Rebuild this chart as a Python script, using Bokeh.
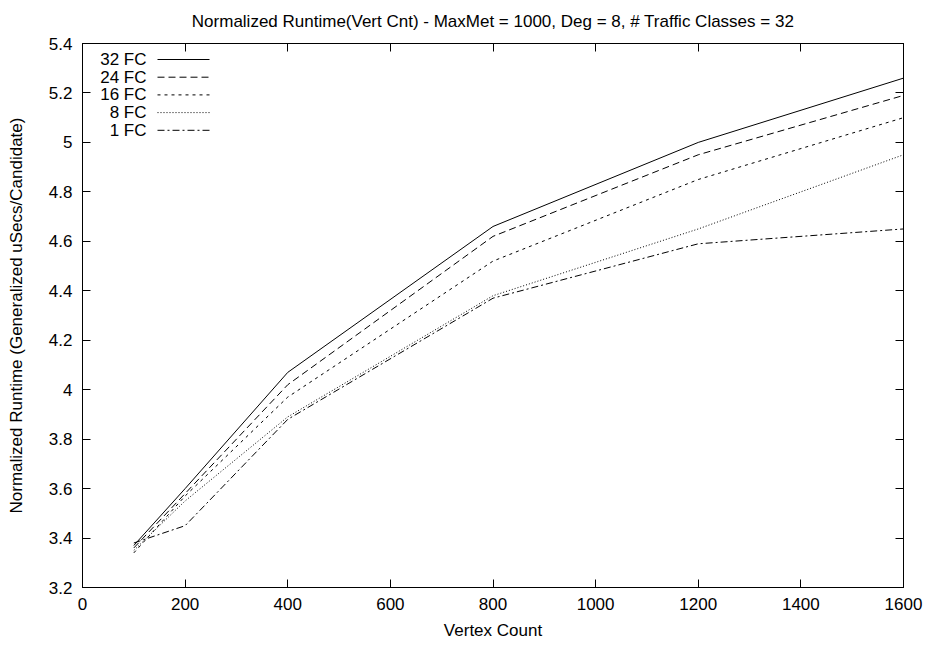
from bokeh.plotting import figure
from bokeh.models import (Range1d, FixedTicker, LinearAxis, Label, Arrow,
                          CustomJSTickFormatter)
from bokeh.embed import file_html
from bokeh.resources import INLINE

# ---- data ----
vertex_count = [100, 200, 400, 800, 1200, 1600]
fc32 = [3.37, 3.60, 4.07, 4.66, 5.00, 5.26]
fc24 = [3.36, 3.58, 4.02, 4.62, 4.95, 5.19]
fc16 = [3.34, 3.57, 3.97, 4.52, 4.85, 5.10]
fc8 = [3.35, 3.55, 3.89, 4.38, 4.65, 4.95]
fc1 = [3.38, 3.45, 3.88, 4.37, 4.59, 4.65]
series_names = ["32 FC", "24 FC", "16 FC", "8 FC", "1 FC"]
series_values = [fc32, fc24, fc16, fc8, fc1]
x_ticks = [0, 200, 400, 600, 800, 1000, 1200, 1400, 1600]
y_ticks = [3.2, 3.4, 3.6, 3.8, 4.0, 4.2, 4.4, 4.6, 4.8, 5.0, 5.2, 5.4]

title_text = "Normalized Runtime(Vert Cnt) - MaxMet = 1000, Deg = 8, # Traffic Classes = 32"
x_label = "Vertex Count"
y_label = "Normalized Runtime (Generalized uSecs/Candidate)"

# ---- styles ----
FONT = "Liberation Sans"
FS = "17px"
dashes = ["solid", "7 4", "3 4", "1 2", "7 3 2 3"]

p = figure(width=930, height=648, output_backend="svg", toolbar_location=None,
           x_range=Range1d(0, 1600), y_range=Range1d(3.2, 5.4),
           min_border_left=82, min_border_right=27, min_border_top=43,
           min_border_bottom=61, x_axis_label=x_label, y_axis_label=y_label)
p.title.text = title_text
p.title.align = "center"
p.title.vertical_align = "top"
p.title.text_font = FONT
p.title.text_font_size = FS
p.title.text_font_style = "normal"
p.title.text_color = "black"
p.title.standoff = 22

p.grid.visible = False
p.outline_line_color = "black"
p.outline_line_width = 1
p.background_fill_color = "white"
p.border_fill_color = "white"

fmt = CustomJSTickFormatter(code="return String(Number(tick.toFixed(1)));")
blank = CustomJSTickFormatter(code="return '';")

def style_axis(ax):
    ax.axis_line_color = "black"
    ax.major_tick_line_color = "black"
    ax.major_tick_in = 8
    ax.major_tick_out = 0
    ax.minor_tick_line_color = None
    ax.major_label_text_font = FONT
    ax.major_label_text_font_size = FS
    ax.major_label_text_color = "black"
    ax.axis_label_text_font = FONT
    ax.axis_label_text_font_size = FS
    ax.axis_label_text_font_style = "normal"
    ax.axis_label_text_color = "black"
    ax.major_label_standoff = 6

p.xaxis.ticker = FixedTicker(ticks=x_ticks)
p.yaxis.ticker = FixedTicker(ticks=y_ticks)
p.xaxis.formatter = fmt
p.yaxis.formatter = fmt
style_axis(p.xaxis[0])
style_axis(p.yaxis[0])
p.xaxis.major_label_standoff = 10
p.xaxis.axis_label_standoff = 8
p.yaxis.major_label_standoff = 10
p.yaxis.axis_label_standoff = 20

top = LinearAxis(ticker=FixedTicker(ticks=x_ticks), formatter=blank)
right = LinearAxis(ticker=FixedTicker(ticks=y_ticks), formatter=blank)
style_axis(top)
style_axis(right)
top.major_label_standoff = 0
right.major_label_standoff = 0
p.add_layout(top, "above")
p.add_layout(right, "right")

for name, vals, dash in zip(series_names, series_values, dashes):
    p.line(vertex_count, vals, line_color="black", line_width=1, line_dash=dash)

# ---- legend (label then line sample, like the original) ----
leg_text_x = 64
leg_line_x0 = 75
leg_line_x1 = 127
leg_top = 528
leg_step = 17.7
for i, (name, dash) in enumerate(zip(series_names, dashes)):
    yy = leg_top - i * leg_step
    p.add_layout(Label(x=leg_text_x, y=yy, x_units="screen", y_units="screen",
                       text=name, text_align="right", text_baseline="middle",
                       text_font=FONT, text_font_size=FS, text_color="black"))
    p.add_layout(Arrow(x_start=leg_line_x0, y_start=yy, x_end=leg_line_x1, y_end=yy,
                       start_units="screen", end_units="screen", end=None,
                       line_color="black", line_width=1, line_dash=dash))

open("out.html", "w").write(file_html(p, INLINE))
